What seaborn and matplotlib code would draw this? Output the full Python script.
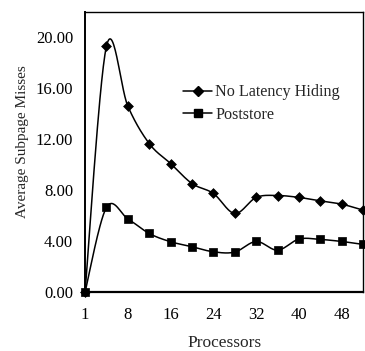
import numpy as np
import pandas as pd
import matplotlib
matplotlib.use("Agg")
import matplotlib.pyplot as plt
from matplotlib.lines import Line2D
import seaborn as sns

processors = [1, 4, 8, 12, 16, 20, 24, 28, 32, 36, 40, 44, 48, 52]
no_latency_hiding = [0.0, 19.3, 14.6, 11.66, 10.09, 8.52, 7.74, 6.17, 7.43, 7.58, 7.43, 7.16, 6.90, 6.43]
poststore = [0.0, 6.64, 5.75, 4.60, 3.95, 3.56, 3.16, 3.14, 3.97, 3.29, 4.16, 4.13, 3.97, 3.74]
tick_labels = ["1", "", "8", "", "16", "", "24", "", "32", "", "40", "", "48", ""]
y_ticks = [0, 4, 8, 12, 16, 20]

sns.set_theme(style="white")
plt.rcParams["font.family"] = ["Liberation Serif", "DejaVu Serif"]


def smooth_curve(xs, ys, n=30):
    """Bezier smoothing through every point (cardinal spline, tension 1/6)."""
    xs = np.asarray(xs, float)
    ys = np.asarray(ys, float)
    px = np.concatenate([[xs[0]], xs, [xs[-1]]])
    py = np.concatenate([[ys[0]], ys, [ys[-1]]])
    out_x, out_y = [], []
    t = np.linspace(0, 1, n)
    for i in range(1, len(px) - 2):
        p0 = np.array([px[i], py[i]])
        p3 = np.array([px[i + 1], py[i + 1]])
        c1 = p0 + (np.array([px[i + 1], py[i + 1]]) - np.array([px[i - 1], py[i - 1]])) / 6
        c2 = p3 - (np.array([px[i + 2], py[i + 2]]) - np.array([px[i], py[i]])) / 6
        b = ((1 - t) ** 3)[:, None] * p0 + (3 * (1 - t) ** 2 * t)[:, None] * c1 \
            + (3 * (1 - t) * t ** 2)[:, None] * c2 + (t ** 3)[:, None] * p3
        out_x.extend(b[:, 0])
        out_y.extend(b[:, 1])
    return np.array(out_x), np.array(out_y)


pos = np.arange(len(processors))
df = pd.DataFrame({"pos": pos, "No Latency Hiding": no_latency_hiding, "Poststore": poststore})

fig = plt.figure(figsize=(3.65, 3.51), dpi=100)
ax = fig.add_axes([0.233, 0.168, 0.762, 0.798])

series = [("No Latency Hiding", "D", 5.0), ("Poststore", "s", 5.5)]
handles = []
for name, marker, msize in series:
    sx, sy = smooth_curve(df["pos"], df[name])
    sns.lineplot(x=sx, y=sy, ax=ax, color="black", linewidth=1.1, sort=False,
                 estimator=None, legend=False, clip_on=False)
    sns.scatterplot(x=df["pos"], y=df[name], ax=ax, marker=marker, s=msize ** 2,
                    color="black", edgecolor="black", linewidth=0.5, legend=False,
                    clip_on=False, zorder=3)
    handles.append(Line2D([], [], color="black", linewidth=1.1, marker=marker,
                          markersize=msize, label=name))

ax.set_xlim(0, len(processors) - 1)
ax.set_ylim(0, 22)
ax.set_xticks(pos)
ax.set_xticklabels(tick_labels)
ax.set_yticks(y_ticks)
ax.set_yticklabels([f"{v:.2f}" for v in y_ticks])
ax.tick_params(axis="both", direction="inout", length=7, width=1.0, color="black",
               labelsize=12, labelcolor="black", pad=5)
ax.tick_params(axis="x", pad=7)
for side, sp in ax.spines.items():
    sp.set_color("black")
    sp.set_linewidth(1.0)
ax.spines["bottom"].set_linewidth(1.6)
ax.spines["left"].set_linewidth(1.4)

ax.set_xlabel("Processors", fontsize=12.5, labelpad=9)
ax.set_ylabel("Average Subpage Misses", fontsize=11)
ax.yaxis.set_label_coords(-0.20, 0.536)

ax.legend(handles=handles, loc="upper left", bbox_to_anchor=(0.33, 0.765),
          frameon=False, fontsize=11.6, handlelength=1.8, handletextpad=0.2,
          labelspacing=0.4, borderaxespad=0)

fig.savefig("out.png", dpi=100)
